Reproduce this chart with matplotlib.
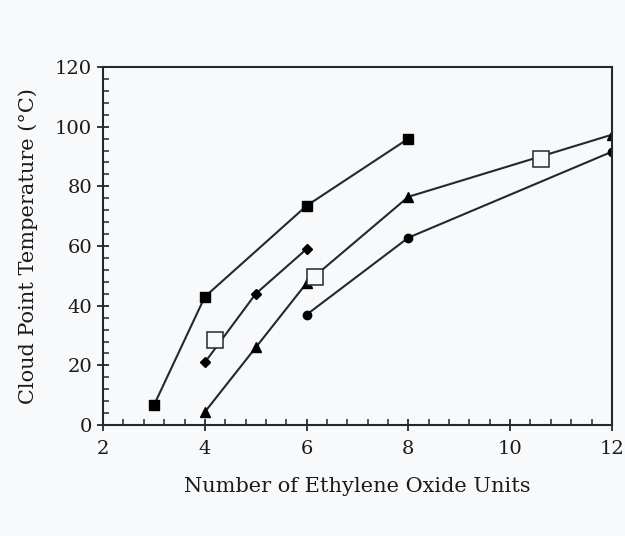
import matplotlib
matplotlib.use("Agg")
import matplotlib.pyplot as plt
from matplotlib.ticker import MultipleLocator

plt.rcParams['font.family'] = ['DejaVu Serif']

# data
sq_x = [3, 4, 6, 8]
sq_y = [6.7, 43, 73.5, 96]
dia_x = [4, 5, 6]
dia_y = [21, 44, 59]
tri_x = [4, 5, 6, 8, 12]
tri_y = [4.4, 26, 47.6, 76.5, 97.3]
cir_x = [6, 8, 12]
cir_y = [37, 62.8, 91.6]
open_x = [4.2, 6.17, 10.6]
open_y = [28.5, 49.7, 89.2]

ink = '#1e2b2e'
bg = '#f8f9fb'

fig = plt.figure(figsize=(6.25, 5.36), dpi=100, facecolor=bg)
ax = fig.add_axes([0.165, 0.207, 0.814, 0.668])
ax.set_facecolor(bg)

lw = 1.5
ax.plot(sq_x, sq_y, color=ink, lw=lw, marker='s', ms=7, mfc='black', mec='black')
ax.plot(dia_x, dia_y, color=ink, lw=lw, marker='D', ms=5.5, mfc='black', mec='black')
ax.plot(tri_x, tri_y, color=ink, lw=lw, marker='^', ms=7, mfc='black', mec='black')
ax.plot(cir_x, cir_y, color=ink, lw=lw, marker='o', ms=6, mfc='black', mec='black')
ax.plot(open_x, open_y, ls='none', marker='s', ms=11, mfc=bg, mec=ink, mew=1.1)

ax.set_xlim(2, 12)
ax.set_ylim(0, 120)
ax.xaxis.set_major_locator(MultipleLocator(2))
ax.xaxis.set_minor_locator(MultipleLocator(0.4))
ax.yaxis.set_major_locator(MultipleLocator(20))
ax.yaxis.set_minor_locator(MultipleLocator(4))
ax.tick_params(which='major', direction='inout', length=9, width=1.3, color=ink,
               labelsize=14, labelcolor='#1a1a1a')
ax.tick_params(which='minor', direction='in', length=4, width=1.1, color=ink)
ax.tick_params(axis='x', pad=6)
for s in ax.spines.values():
    s.set_color(ink)
    s.set_linewidth(1.5)

ax.set_xlabel('Number of Ethylene Oxide Units', fontsize=15, color='#1a1a1a', labelpad=14)
ax.set_ylabel('Cloud Point Temperature (°C)', fontsize=15, color='#1a1a1a', labelpad=12)

fig.savefig('out.png', dpi=100, facecolor=bg)
